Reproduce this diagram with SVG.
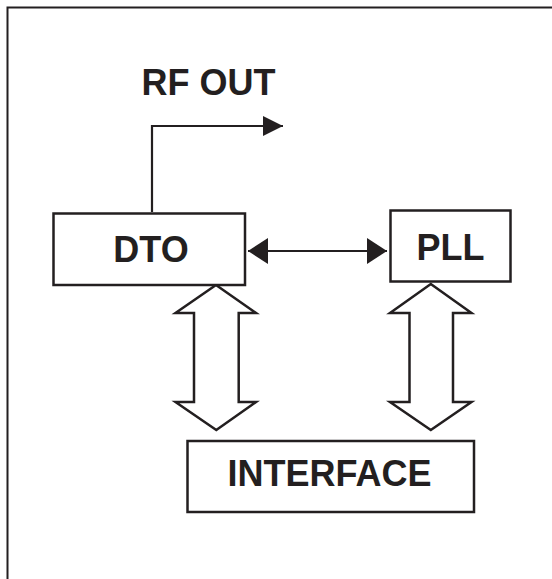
<svg xmlns="http://www.w3.org/2000/svg" width="552" height="579" viewBox="0 0 552 579">
<style>
.box{fill:#fff;stroke:#231f20;stroke-width:2.5}
.lbl{font-family:"Liberation Sans",Arial,sans-serif;font-weight:bold;font-size:36px;fill:#231f20;text-anchor:middle}
.ln{fill:none;stroke:#231f20;stroke-width:2.2}
.hollow{fill:#fff;stroke:#231f20;stroke-width:2.5;stroke-linejoin:miter}
</style>
<defs>
<marker id="ah" viewBox="0 0 20 20" refX="20" refY="10" markerWidth="20" markerHeight="20" markerUnits="userSpaceOnUse" orient="auto-start-reverse">
<path d="M0,0 L20,10 L0,20 Z" fill="#231f20"/>
</marker>
<marker id="ah2" viewBox="0 0 20 26" refX="20" refY="13" markerWidth="20" markerHeight="26" markerUnits="userSpaceOnUse" orient="auto-start-reverse">
<path d="M0,0 L20,13 L0,26 Z" fill="#231f20"/>
</marker>
</defs>
<rect width="552" height="579" fill="#fff"/>
<path d="M7.5,579 V7.5 H552" fill="none" stroke="#231f20" stroke-width="2"/>
<text class="lbl" x="208.5" y="95">RF OUT</text>
<g id="connectors">
<path class="ln" d="M152,212 V126 H283" marker-end="url(#ah)"/>
<path class="ln" d="M248,251 H387" marker-start="url(#ah2)" marker-end="url(#ah2)"/>
<path class="hollow" d="M216,285 L256,313 H238.7 V402 H256 L216.3,430 L175.5,402 H194 V313 H175.5 Z"/>
<path class="hollow" d="M430.8,284 L471.5,313 H453 V402 H471.5 L430.8,430 L390,402 H409.5 V313 H390 Z"/>
</g>
<g id="dto">
<rect class="box" x="53.5" y="213.5" width="191.5" height="71.5"/>
<text class="lbl" x="151" y="261.5">DTO</text>
</g>
<g id="pll">
<rect class="box" x="390.5" y="210.5" width="120" height="71"/>
<text class="lbl" x="450.5" y="259.5">PLL</text>
</g>
<g id="interface">
<rect class="box" x="187.5" y="441" width="286.5" height="71"/>
<text class="lbl" x="329.5" y="485.5">INTERFACE</text>
</g>
</svg>
